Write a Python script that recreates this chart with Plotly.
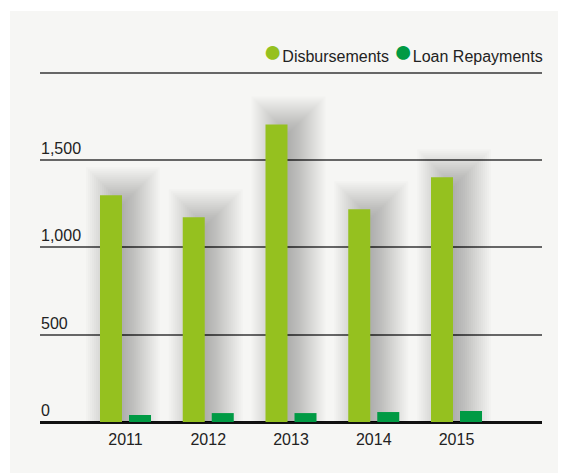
import plotly.graph_objects as go

# ---- data ----
years = ["2011", "2012", "2013", "2014", "2015"]
disbursements = [1297, 1171, 1703, 1217, 1400]
repayments = [40, 51, 51, 57, 63]
series_names = ["Disbursements", "Loan Repayments"]
y_tick_values = [0, 500, 1000, 1500, 2000]
y_tick_labels = ["0", "500", "1,000", "1,500", ""]

# ---- style ----
C_DISB = "#95c11f"
C_REP = "#009a44"
BG = "#f6f6f4"
FONT = "Liberation Sans, Arial, sans-serif"
TXT = "#222222"
PX_PER_CAT = 82.75          # pixels per category
PLOT_H = 473 - 61 - 59
Y_MAX = 2020
PX_PER_UNIT = PLOT_H / Y_MAX

bar_w = 22 / PX_PER_CAT
off_disb = -25.5 / PX_PER_CAT
off_rep = 3.5 / PX_PER_CAT

fig = go.Figure()

# soft drop shadows behind the disbursement bars (layered translucent bars)
core_w, core_c, core_top = 30, -2.5, 6
for d in range(-14, 24, 2):
    w_px = core_w + 2 * d
    if w_px <= 0:
        continue
    extra = (core_top + d) / PX_PER_UNIT
    fig.add_trace(go.Bar(
        x=years, y=[v + extra for v in disbursements],
        width=w_px / PX_PER_CAT, offset=(core_c - w_px / 2) / PX_PER_CAT,
        marker=dict(color="rgba(0,0,0,0.0155)", line=dict(width=0)),
        showlegend=False, hoverinfo="skip"))

fig.add_trace(go.Bar(
    x=years, y=disbursements, name=series_names[0],
    width=bar_w, offset=off_disb,
    marker=dict(color=C_DISB, line=dict(width=0)), showlegend=False))
fig.add_trace(go.Bar(
    x=years, y=repayments, name=series_names[1],
    width=bar_w, offset=off_rep,
    marker=dict(color=C_REP, line=dict(width=0)), showlegend=False))

annotations = []
for v, t in zip(y_tick_values, y_tick_labels):
    if t:
        annotations.append(dict(
            x=0, xref="paper", y=v, yref="y", text=t, showarrow=False,
            xanchor="left", yanchor="bottom", yshift=1, xshift=-1,
            font=dict(family=FONT, size=16, color=TXT)))

legend_text = (
    f"<span style='color:{C_DISB};font-size:32px'>●</span>{series_names[0]} "
    f"<span style='color:{C_REP};font-size:32px'>●</span>{series_names[1]}")
annotations.append(dict(
    x=1, xref="paper", y=1.05, yref="paper", text=legend_text,
    showarrow=False, xanchor="right", yanchor="middle", xshift=3,
    font=dict(family=FONT, size=16, color=TXT)))

fig.update_layout(
    width=566, height=473,
    margin=dict(l=32, r=32, t=61, b=59),
    paper_bgcolor="white", plot_bgcolor="rgba(0,0,0,0)",
    barmode="overlay", showlegend=False,
    font=dict(family=FONT, size=16, color=TXT),
    xaxis=dict(type="category", range=[-1.033, 5.033], showgrid=False,
               zeroline=False, showline=False, ticks="", ticklabelstandoff=6,
               tickfont=dict(family=FONT, size=16, color=TXT)),
    yaxis=dict(range=[0, Y_MAX], tickvals=y_tick_values, showticklabels=False,
               showgrid=True, gridcolor="#666666", gridwidth=1.5,
               zeroline=True, zerolinecolor="#111111", zerolinewidth=3,
               showline=False, ticks=""),
    shapes=[dict(type="rect", xref="paper", yref="paper", layer="below",
                 x0=-0.0598, x1=1.1, y0=-0.25, y1=1.164,
                 fillcolor=BG, line=dict(width=0))],
    annotations=annotations,
)

fig.write_html("out.html")
